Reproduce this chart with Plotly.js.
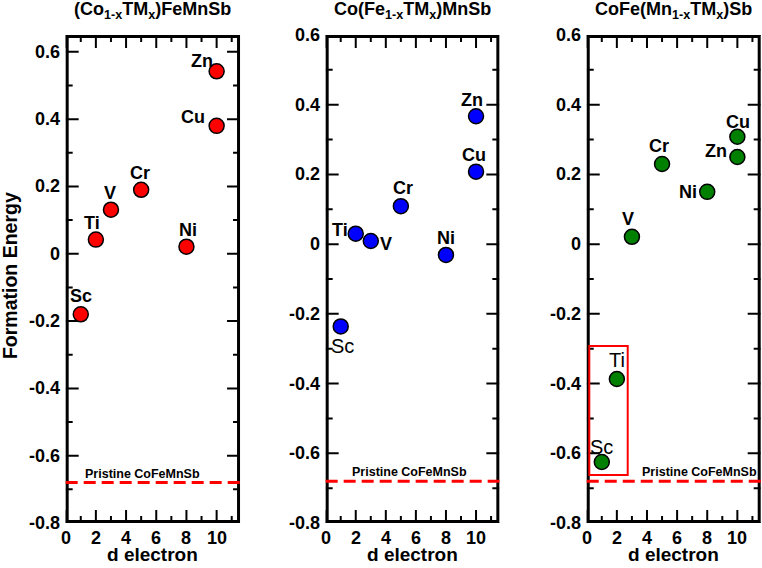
<!DOCTYPE html>
<html>
<head>
<meta charset="utf-8">
<script src="https://cdn.plot.ly/plotly-3.0.1.min.js"></script>
<style>html,body{margin:0;padding:0;background:#fff;}#chart{width:762px;height:568px;}</style>
</head>
<body>
<div id="chart"></div>
<script>
// ---- data ----
const elements = ['Sc', 'Ti', 'V', 'Cr', 'Ni', 'Cu', 'Zn'];
const dElectron = [1, 2, 3, 5, 8, 10, 10];
const energyCoSite = [-0.18, 0.042, 0.131, 0.19, 0.021, 0.38, 0.542];
const energyFeSite = [-0.236, 0.03, 0.009, 0.109, -0.031, 0.208, 0.367];
const energyMnSite = [-0.625, -0.387, 0.021, 0.23, 0.15, 0.308, 0.25];
const pristineEnergy = -0.68;
const pristineLabel = 'Pristine CoFeMnSb';
const panelTitles = ['(Co<sub>1-x</sub>TM<sub>x</sub>)FeMnSb', 'Co(Fe<sub>1-x</sub>TM<sub>x</sub>)MnSb', 'CoFe(Mn<sub>1-x</sub>TM<sub>x</sub>)Sb'];
const xTickVals = [0, 2, 4, 6, 8, 10];
const xTickText = ['0', '2', '4', '6', '8', '10'];
const yTickVals = [-0.8, -0.6, -0.4, -0.2, 0, 0.2, 0.4, 0.6];
const yTickText = ['-0.8', '-0.6', '-0.4', '-0.2', '0', '0.2', '0.4', '0.6'];
const xTitle = 'd electron';
const yTitle = 'Formation Energy';
const highlightBox = {x0: 0.17, x1: 2.72, y0: -0.662, y1: -0.292};

// ---- styling / placement ----
const FONT = 'Liberation Sans, Arial, Helvetica, sans-serif';
const W = 762, H = 568, M = {l: 0, r: 0, t: 35, b: 45};
const colors = ['#ff0000', '#0000ff', '#008000'];
const series = [energyCoSite, energyFeSite, energyMnSite];
const labelOffsets = [
  [[0, 18], [-4, 17], [-1, 17], [-1, 17], [2, 17], [-24, 9], [-15, 10]],
  [[2, -20], [-16, 4], [15, -3], [2, 18], [0, 17], [-2, 17], [-4, 16]],
  [[0, 15], [0, 19], [-4, 18], [-3, 18], [-19, 0], [1, 15], [-21, 6]]
];
const labelRegular = [[], ['Sc'], ['Sc', 'Ti']];
const pristineLabelX = [5.1, 5.6, 7.5];
const domains = [[0.0862, 0.315], [0.4274, 0.6553], [0.77, 0.9983]];
const xRange = [0, 11.55];
const yRanges = [[-0.8, 0.65], [-0.8, 0.6], [-0.8, 0.6]];
const MAJOR_LEN = 13, MINOR_LEN = 7;
const bold = s => '<b>' + s + '</b>';
const txtFont = size => ({family: FONT, size: size, color: '#000'});

const traces = [];
const annotations = [];
const shapes = [];
const layout = {
  width: W, height: H, margin: M,
  showlegend: false,
  paper_bgcolor: '#fff', plot_bgcolor: '#fff',
  annotations: annotations,
  shapes: shapes
};

// frame + inside ticks (major and minor, mirrored) built from the tick arrays
function frameAndTicks(p, xa, ya) {
  const xr = xRange, yr = yRanges[p];
  const ux = (xr[1] - xr[0]) / ((domains[p][1] - domains[p][0]) * W);
  const uy = (yr[1] - yr[0]) / (H - M.t - M.b);
  const xs = [], ys = [];
  const seg = (x0, y0, x1, y1) => { xs.push(x0, x1, null); ys.push(y0, y1, null); };
  const xMinor = xTickVals.map(v => v + 1).filter(v => v < xr[1]);
  const yMinor = yTickVals.slice(0, -1).map((v, i) => (v + yTickVals[i + 1]) / 2);
  const xt = (v, len) => { seg(v, yr[0], v, yr[0] + len * uy); seg(v, yr[1], v, yr[1] - len * uy); };
  const yt = (v, len) => { seg(xr[0], v, xr[0] + len * ux, v); seg(xr[1], v, xr[1] - len * ux, v); };
  xTickVals.forEach(v => xt(v, MAJOR_LEN));
  xMinor.forEach(v => xt(v, MINOR_LEN));
  yTickVals.filter(v => v <= yr[1]).forEach(v => yt(v, MAJOR_LEN));
  yMinor.forEach(v => yt(v, MINOR_LEN));
  traces.push({
    type: 'scatter', mode: 'lines', x: xs, y: ys, xaxis: xa, yaxis: ya,
    line: {color: '#000', width: 2}, connectgaps: false, hoverinfo: 'skip'
  });
  traces.push({
    type: 'scatter', mode: 'lines', xaxis: xa, yaxis: ya,
    x: [xr[0], xr[1], xr[1], xr[0], xr[0]], y: [yr[0], yr[0], yr[1], yr[1], yr[0]],
    line: {color: '#000', width: 6}, hoverinfo: 'skip'
  });
}

for (let p = 0; p < 3; p++) {
  const sfx = p === 0 ? '' : String(p + 1);
  const xa = 'x' + sfx, ya = 'y' + sfx;
  layout['xaxis' + sfx] = {
    domain: domains[p], anchor: ya, range: xRange,
    showline: false, ticks: '', showticklabels: false, showgrid: false, zeroline: false
  };
  layout['yaxis' + sfx] = {
    domain: [0, 1], anchor: xa, range: yRanges[p],
    showline: false, ticks: '', showticklabels: false, showgrid: false, zeroline: false
  };
  frameAndTicks(p, xa, ya);
  traces.push({
    type: 'scatter', mode: 'markers', x: dElectron, y: series[p],
    xaxis: xa, yaxis: ya, cliponaxis: false,
    marker: {size: 15, color: colors[p], line: {color: '#000', width: 1.5}},
    hoverinfo: 'skip'
  });
  // tick labels
  xTickVals.forEach((v, i) => annotations.push({
    xref: xa, yref: ya + ' domain', x: v, y: 0, yanchor: 'top', yshift: -3,
    text: bold(xTickText[i]), showarrow: false, font: txtFont(18)
  }));
  yTickVals.forEach((v, i) => annotations.push({
    xref: xa + ' domain', yref: ya, x: 0, y: v, xanchor: 'right', xshift: -4,
    text: bold(yTickText[i]), showarrow: false, font: txtFont(18)
  }));
  // element labels
  elements.forEach((el, i) => {
    const regular = labelRegular[p].indexOf(el) >= 0;
    annotations.push({
      xref: xa, yref: ya, x: dElectron[i], y: series[p][i],
      xshift: labelOffsets[p][i][0], yshift: labelOffsets[p][i][1],
      text: regular ? el : bold(el), showarrow: false, font: txtFont(regular ? 20 : 18)
    });
  });
  // panel title
  annotations.push({
    xref: xa + ' domain', yref: 'paper', x: 0.5, y: 1, yanchor: 'bottom', yshift: 11,
    text: bold(panelTitles[p]), showarrow: false, font: txtFont(18)
  });
  // x axis title
  annotations.push({
    xref: xa + ' domain', yref: 'paper', x: 0.5, y: 0, yanchor: 'middle', yshift: -31,
    text: bold(xTitle), showarrow: false, font: txtFont(19)
  });
  // pristine reference line + label
  shapes.push({
    type: 'line', xref: xa + ' domain', yref: ya, x0: 0, x1: 1, y0: pristineEnergy, y1: pristineEnergy,
    line: {color: '#ff0000', width: 3, dash: '12px,6px'}
  });
  annotations.push({
    xref: xa, yref: ya, x: pristineLabelX[p], y: pristineEnergy, yshift: 9,
    text: bold(pristineLabel), showarrow: false, font: txtFont(12.5)
  });
}
// highlight box in third panel
shapes.push({
  type: 'rect', xref: 'x3', yref: 'y3',
  x0: highlightBox.x0, x1: highlightBox.x1, y0: highlightBox.y0, y1: highlightBox.y1,
  line: {color: '#ff0000', width: 2}, fillcolor: 'rgba(0,0,0,0)'
});
// y axis title
annotations.push({
  xref: 'paper', yref: 'paper', x: 10 / W, y: 0.506, xanchor: 'center', yanchor: 'middle',
  text: bold(yTitle), textangle: -90, showarrow: false, font: txtFont(19.5)
});

Plotly.newPlot('chart', traces, layout, {displayModeBar: false, staticPlot: true});
</script>
</body>
</html>
